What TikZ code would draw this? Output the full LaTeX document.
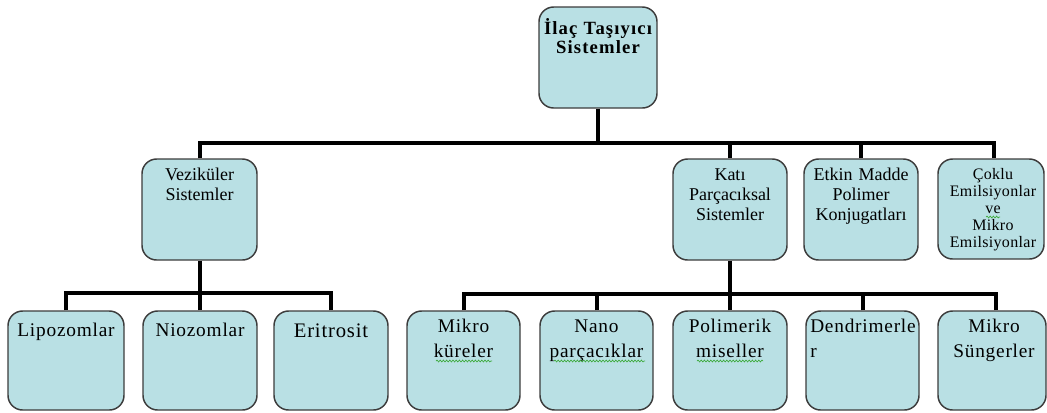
\documentclass[tikz,border=0pt]{standalone}
\usepackage{fontspec}
\setmainfont{Liberation Serif}
\newfontfamily\topfont[LetterSpace=6]{Liberation Serif}
\newfontfamily\botfont[LetterSpace=4]{Liberation Serif}
\newfontfamily\cokfont[LetterSpace=2]{Liberation Serif}
\usetikzlibrary{fit,decorations.pathmorphing}
\definecolor{boxfill}{RGB}{185,224,228}
\definecolor{boxline}{RGB}{60,60,60}
\definecolor{squiggreen}{RGB}{60,170,60}
\tikzset{
  box/.style={draw=boxline, fill=boxfill, line width=1.1pt, rounded corners=11pt, inner sep=0pt},
  conn/.style={draw=black, line width=3pt},
  txt/.style={anchor=base, inner sep=0pt, text width=100pt, align=center},
  ttop/.style={txt, font=\topfont\bfseries\fontsize{14}{14.6}\selectfont},
  tmid/.style={txt, font=\fontsize{13.5}{15}\selectfont},
  tcok/.style={txt, font=\cokfont\fontsize{12}{12.75}\selectfont},
  tbot/.style={txt, font=\botfont\fontsize{14.5}{19.1}\selectfont},
  squig/.style={draw=squiggreen, line width=0.5pt, decorate, decoration={snake, amplitude=0.7pt, segment length=2.4pt}}
}
\begin{document}
\begin{tikzpicture}[x=0.75pt, y=-0.75pt]
\useasboundingbox (0,0) rectangle (1047,412);
% boxes
\node[box, fit={(539,7) (657,108)}] (ilac) {};
\node[box, fit={(142,159) (257,260)}] (vez) {};
\node[box, fit={(673,159) (787,260)}] (kati) {};
\node[box, fit={(804,159) (918,260)}] (etkin) {};
\node[box, fit={(938,159) (1044,259)}] (cok) {};
\node[box, fit={(8,311) (124,410)}] (lipo) {};
\node[box, fit={(143,311) (257,410)}] (nio) {};
\node[box, fit={(274,311) (388,410)}] (erit) {};
\node[box, fit={(407,311) (520,410)}] (mikro) {};
\node[box, fit={(540,311) (653,410)}] (nano) {};
\node[box, fit={(673,311) (787,410)}] (poli) {};
\node[box, fit={(806,311) (919,410)}] (dend) {};
\node[box, fit={(938,311) (1046,410)}] (sung) {};
% texts
\node[ttop] (ilact) at (598,34.5) {İlaç Taşıyıcı\\Sistemler};
\node[tmid] (vezt) at (199.5,180) {Veziküler\\Sistemler};
\node[tmid] (katit) at (730,180) {Katı\\Parçacıksal\\Sistemler};
\node[tmid] (etkint) at (861,180) {Etkin Madde\\Polimer\\Konjugatları};
\node[tcok] (cokt) at (993,179) {Çoklu\\Emilsiyonlar\\ve\\Mikro\\Emilsiyonlar};
\node[tbot] (lipot) at (66,336) {Lipozomlar};
\node[tbot] (niot) at (200,336) {Niozomlar};
\node[txt, font=\botfont\fontsize{15.5}{19}\selectfont] (eritt) at (331,337) {Eritrosit};
\node[tbot] (mikrot) at (463.5,332) {Mikro\\küreler};
\node[tbot] (nanot) at (596.5,332) {Nano\\parçacıklar};
\node[tbot] (polit) at (730,332) {Polimerik\\miseller};
\node[tbot, anchor=base west, align=left] (dendt) at (810,332) {Dendrimerle\\r};
\node[tbot] (sungt) at (994,332) {Mikro\\Süngerler};
% spell-check squiggles
\draw[squig] (436,361) -- (492,361);
\draw[squig] (554,361) -- (645,361);
\draw[squig] (697,361) -- (763,361);
\draw[squig] (986,217) -- (1000,217);
% connectors
\coordinate (j1) at (598,143);
\draw[conn] (ilac.south) -- (j1);
\draw[conn] (vez.north) |- (j1);
\draw[conn] (kati.north) |- (j1);
\draw[conn] (etkin.north) |- (j1);
\draw[conn] ([xshift=2.5pt]cok.north) |- (j1);
\coordinate (j2) at (199.5,293);
\draw[conn] (vez.south) -- (j2);
\draw[conn] (lipo.north) |- (j2);
\draw[conn] (nio.north) |- (j2);
\draw[conn] (erit.north) |- (j2);
\coordinate (j3) at (730,294);
\draw[conn] (kati.south) -- (j3);
\draw[conn] (mikro.north) |- (j3);
\draw[conn] (nano.north) |- (j3);
\draw[conn] (poli.north) |- (j3);
\draw[conn] (dend.north) |- (j3);
\draw[conn] ([xshift=3pt]sung.north) |- (j3);
\end{tikzpicture}
\end{document}
